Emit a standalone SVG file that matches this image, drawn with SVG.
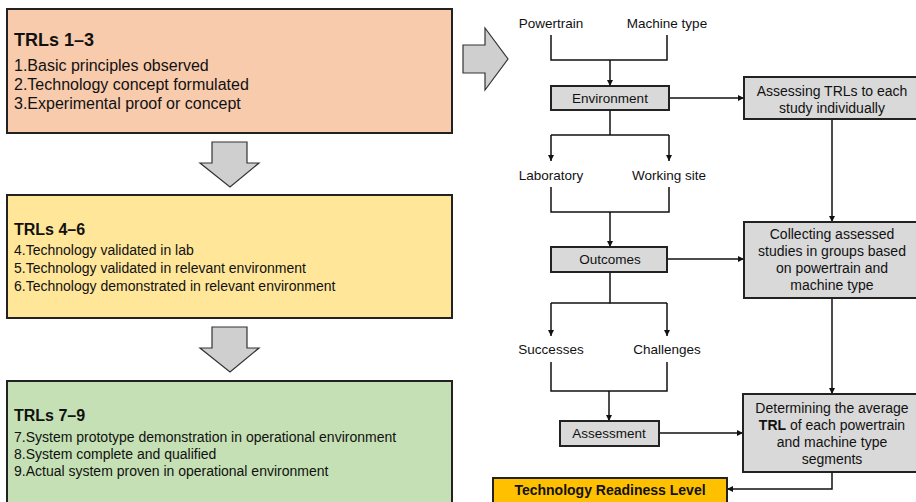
<svg xmlns="http://www.w3.org/2000/svg" width="916" height="502" viewBox="0 0 916 502">
<defs>
<marker id="ah" viewBox="0 0 10 10" refX="10" refY="5" markerWidth="6" markerHeight="6" markerUnits="userSpaceOnUse" orient="auto">
<path d="M0,0 L10,5 L0,10 z" fill="#111"/>
</marker>
</defs>
<style>
text{font-family:"Liberation Sans",Arial,sans-serif;fill:#111}
.trl{stroke:#222;stroke-width:2}
.ttl{font-size:17px;font-weight:bold}
.it1{font-size:16px}
.it{font-size:14px}
.big{fill:#cfcfcf;stroke:#333;stroke-width:1.2}
.gb{fill:#d9d9d9;stroke:#222;stroke-width:2}
.fl{font-size:13.5px;text-anchor:middle}
.rb{font-size:14px;text-anchor:middle}
.cn{fill:none;stroke:#111;stroke-width:1.5}
.ar{marker-end:url(#ah)}
</style>
<rect width="916" height="502" fill="#fff"/>

<g id="trl13">
<rect class="trl" x="7" y="9" width="445" height="124" fill="#f8cbad"/>
<text class="ttl" x="14" y="46" style="font-size:18px">TRLs 1–3</text>
<text class="it1" x="14" y="71">1.Basic principles observed</text>
<text class="it1" x="14" y="90">2.Technology concept formulated</text>
<text class="it1" x="14" y="109">3.Experimental proof or concept</text>
</g>
<g id="trl46">
<rect class="trl" x="7" y="195" width="445" height="123" fill="#ffe699"/>
<text class="ttl" x="14" y="235" style="font-size:16px">TRLs 4–6</text>
<text class="it" x="14" y="255">4.Technology validated in lab</text>
<text class="it" x="14" y="273">5.Technology validated in relevant environment</text>
<text class="it" x="14" y="291">6.Technology demonstrated in relevant environment</text>
</g>
<g id="trl79">
<rect class="trl" x="7" y="381" width="445" height="130" fill="#c5e0b4"/>
<text class="ttl" x="14" y="421" style="font-size:16px">TRLs 7–9</text>
<text class="it" x="14" y="442">7.System prototype demonstration in operational environment</text>
<text class="it" x="14" y="459">8.System complete and qualified</text>
<text class="it" x="14" y="476">9.Actual system proven in operational environment</text>
</g>

<g id="bigarrows">
<path class="big" d="M212,142 H247 V163 H259 L230,187 L200,163 H212 Z"/>
<path class="big" d="M212,327 H247 V348 H259 L230,372 L200,348 H212 Z"/>
<path class="big" d="M463,45 H485 V28 L508,59 L485,90 V73 H463 Z"/>
</g>

<g id="connectors">
<path class="cn" d="M551,35 V60 H667 V35"/>
<path class="cn ar" d="M610,60 V86"/>
<path class="cn ar" d="M669,98 H744"/>
<path class="cn" d="M610,110 V135"/>
<path class="cn ar" d="M551,135 H610 M551,135 V161"/>
<path class="cn ar" d="M669,135 V161"/>
<path class="cn" d="M610,135 H669"/>
<path class="cn" d="M551,187 V212 H669 V187"/>
<path class="cn ar" d="M610,212 V247"/>
<path class="cn ar" d="M832,119 V222"/>
<path class="cn ar" d="M667,259 H744"/>
<path class="cn" d="M610,272 V303 H667"/>
<path class="cn ar" d="M551,303 V336"/>
<path class="cn ar" d="M667,303 V336"/>
<path class="cn" d="M551,303 H610"/>
<path class="cn" d="M551,362 V391 H667 V362"/>
<path class="cn ar" d="M609,391 V421"/>
<path class="cn ar" d="M832,298 V394"/>
<path class="cn ar" d="M659,433 H743"/>
<path class="cn ar" d="M832,472 V489 H727"/>
</g>

<g id="powertrain"><text class="fl" x="551" y="28">Powertrain</text></g>
<g id="machinetype"><text class="fl" x="667" y="28">Machine type</text></g>
<g id="environment">
<rect class="gb" x="551" y="86" width="118" height="24"/>
<text class="fl" x="610" y="103">Environment</text>
</g>
<g id="assessing">
<rect class="gb" x="744" y="77" width="175" height="42"/>
<text class="rb" x="832" y="96">Assessing TRLs to each</text>
<text class="rb" x="832" y="113">study individually</text>
</g>
<g id="laboratory"><text class="fl" x="551" y="180">Laboratory</text></g>
<g id="workingsite"><text class="fl" x="669" y="180">Working site</text></g>
<g id="outcomes">
<rect class="gb" x="551" y="247" width="116" height="25"/>
<text class="fl" x="610" y="264">Outcomes</text>
</g>
<g id="collecting">
<rect class="gb" x="744" y="222" width="175" height="76"/>
<text class="rb" x="832" y="239">Collecting assessed</text>
<text class="rb" x="832" y="256">studies in groups based</text>
<text class="rb" x="832" y="273">on powertrain and</text>
<text class="rb" x="832" y="290">machine type</text>
</g>
<g id="successes"><text class="fl" x="551" y="354">Successes</text></g>
<g id="challenges"><text class="fl" x="667" y="354">Challenges</text></g>
<g id="assessment">
<rect class="gb" x="560" y="421" width="99" height="25"/>
<text class="fl" x="609" y="438">Assessment</text>
</g>
<g id="determining">
<rect class="gb" x="743" y="394" width="176" height="78"/>
<text class="rb" x="832" y="413">Determining the average</text>
<text class="rb" x="832" y="430"><tspan font-weight="bold">TRL</tspan> of each powertrain</text>
<text class="rb" x="832" y="447">and machine type</text>
<text class="rb" x="832" y="464">segments</text>
</g>
<g id="trl">
<rect x="493" y="478" width="234" height="30" fill="#ffc000" stroke="#222" stroke-width="2"/>
<text x="610" y="495" style="font-size:14px;font-weight:bold;text-anchor:middle">Technology Readiness Level</text>
</g>
</svg>
